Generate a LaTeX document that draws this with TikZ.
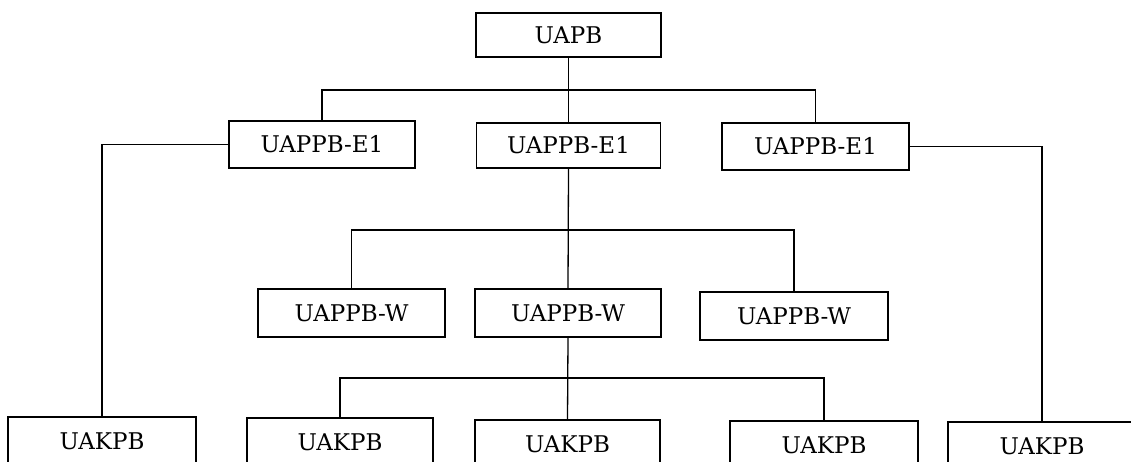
\documentclass[tikz,border=0pt]{standalone}
\usepackage{fontspec}
\setmainfont{DejaVu Serif}
\begin{document}
\begin{tikzpicture}[x=1pt,y=-1pt,
  box/.style={draw,line width=1.3pt,rectangle,inner sep=0pt,font=\fontsize{23}{27}\selectfont,text height=16.5pt,text depth=0pt},
  conn/.style={line width=1.3pt}]
\useasboundingbox (0,0) rectangle (1131,461);
\node[box,minimum width=185pt,minimum height=44pt] (top) at (568.5,35) {UAPB};
\node[box,minimum width=186pt,minimum height=47pt] (e1l) at (322,144.5) {UAPPB-E1};
\node[box,minimum width=184pt,minimum height=45pt] (e1m) at (568.5,145.5) {UAPPB-E1};
\node[box,minimum width=187pt,minimum height=47pt] (e1r) at (815.5,146.5) {UAPPB-E1};
\node[box,minimum width=187pt,minimum height=48pt] (wl) at (351.5,313) {UAPPB-W};
\node[box,minimum width=186pt,minimum height=48pt] (wm) at (568,313) {UAPPB-W};
\node[box,minimum width=188pt,minimum height=48pt] (wr) at (794,316) {UAPPB-W};
\node[box,minimum width=188pt,minimum height=48pt] (k1) at (102,441) {UAKPB};
\node[box,minimum width=186pt,minimum height=48pt] (k2) at (340,442) {UAKPB};
\node[box,minimum width=185pt,minimum height=48pt] (k3) at (567.5,444) {UAKPB};
\node[box,minimum width=188pt,minimum height=48pt] (k4) at (824,445) {UAKPB};
\node[box,minimum width=188pt,minimum height=48pt] (k5) at (1042,446) {UAKPB};
\coordinate (b1) at (568.5,90);
\coordinate (b2) at (568,230);
\coordinate (b3) at (567.5,378);
\draw[conn] (top.south) -- (e1m.north);
\draw[conn] (e1l.north) -- (e1l.north |- b1) -- (e1r.north |- b1) -- (e1r.north);
\draw[conn] (e1l.west) -| (k1.north);
\draw[conn] (e1r.east) -| (k5.north);
\draw[conn] (e1m.south) -- (wm.north);
\draw[conn] (wl.north) -- (wl.north |- b2) -- (wr.north |- b2) -- (wr.north);
\draw[conn] (wm.south) -- (k3.north);
\draw[conn] (k2.north) -- (k2.north |- b3) -- (k4.north |- b3) -- (k4.north);
\end{tikzpicture}
\end{document}
